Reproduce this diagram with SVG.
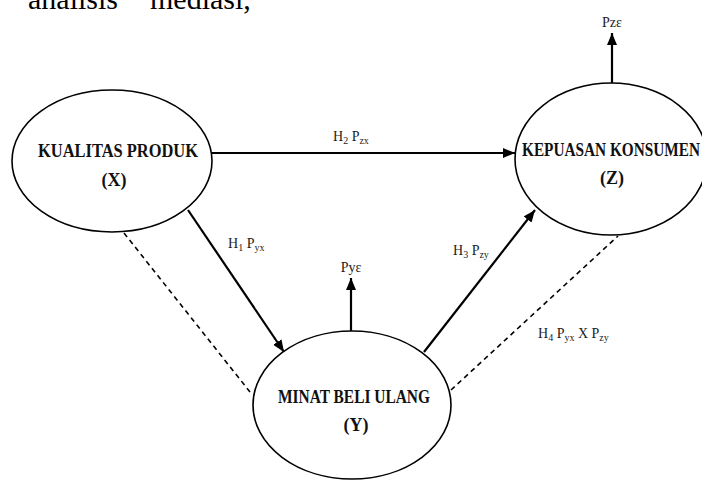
<svg xmlns="http://www.w3.org/2000/svg" width="702" height="481" viewBox="0 0 702 481">
<style>
.node{fill:#fff;stroke:#000;stroke-width:1.6}
.nt{font-family:"Liberation Serif","Times New Roman",serif;font-weight:bold;font-size:18px;fill:#111;text-anchor:middle}
.lb{font-family:"Liberation Serif","Times New Roman",serif;font-size:14px;fill:#222}
.sub{font-size:10px}
.ar{stroke:#000;stroke-width:2.2;fill:none}
.da{stroke:#000;stroke-width:1.6;fill:none;stroke-dasharray:5 4}
.top{font-family:"Liberation Serif","Times New Roman",serif;font-size:30px;fill:#000}
</style>
<defs>
<marker id="ah" markerUnits="userSpaceOnUse" markerWidth="14" markerHeight="12" refX="12" refY="5" orient="auto">
<path d="M0,0 L12,5 L0,10 Z" fill="#000"/>
</marker>
</defs>
<rect width="702" height="481" fill="#fff"/>
<text class="top" x="28" y="9">analisis</text>
<text class="top" x="150" y="9">mediasi,</text>
<g id="connectors">
<line class="ar" x1="212" y1="153" x2="515" y2="153" marker-end="url(#ah)"/>
<line class="ar" x1="612" y1="83" x2="612" y2="33" marker-end="url(#ah)"/>
<line class="ar" x1="351" y1="331" x2="351" y2="278" marker-end="url(#ah)"/>
<line class="ar" x1="188" y1="210" x2="284" y2="352" marker-end="url(#ah)"/>
<line class="ar" x1="424" y1="352" x2="535" y2="210" marker-end="url(#ah)"/>
<line class="da" x1="124" y1="233" x2="250" y2="392"/>
<line class="da" x1="451" y1="390" x2="618" y2="236"/>
<text class="lb" x="333" y="141">H<tspan class="sub" dy="3">2</tspan><tspan dy="-3"> P</tspan><tspan class="sub" dy="3">zx</tspan></text>
<text class="lb" x="228" y="248">H<tspan class="sub" dy="3">1</tspan><tspan dy="-3"> P</tspan><tspan class="sub" dy="3">yx</tspan></text>
<text class="lb" x="453" y="255">H<tspan class="sub" dy="3">3</tspan><tspan dy="-3"> P</tspan><tspan class="sub" dy="3">zy</tspan></text>
<text class="lb" x="538" y="338">H<tspan class="sub" dy="3">4</tspan><tspan dy="-3"> P</tspan><tspan class="sub" dy="3">yx</tspan><tspan dy="-3"> X P</tspan><tspan class="sub" dy="3">zy</tspan></text>
<text class="lb" x="351" y="272" text-anchor="middle">Pyɛ</text>
<text class="lb" x="612" y="27" text-anchor="middle">Pzɛ</text>
</g>
<g id="nodeX">
<ellipse class="node" cx="112" cy="161" rx="100" ry="71"/>
<text class="nt" x="118" y="157" textLength="160" lengthAdjust="spacingAndGlyphs">KUALITAS PRODUK</text>
<text class="nt" x="114" y="186">(X)</text>
</g>
<g id="nodeZ">
<ellipse class="node" cx="611" cy="159" rx="96" ry="76"/>
<text class="nt" x="611" y="156" textLength="178" lengthAdjust="spacingAndGlyphs">KEPUASAN KONSUMEN</text>
<text class="nt" x="612" y="184">(Z)</text>
</g>
<g id="nodeY">
<ellipse class="node" cx="352" cy="405" rx="99" ry="74"/>
<text class="nt" x="354" y="403" textLength="152" lengthAdjust="spacingAndGlyphs">MINAT BELI ULANG</text>
<text class="nt" x="356" y="431">(Y)</text>
</g>
</svg>
